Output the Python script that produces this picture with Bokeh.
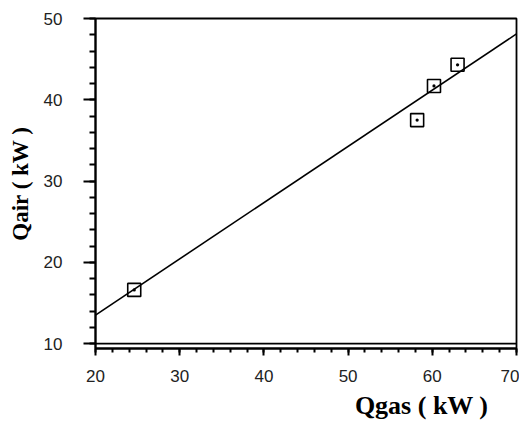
from bokeh.plotting import figure
from bokeh.models import Range1d, SingleIntervalTicker, Span, Title
from bokeh.embed import file_html
from bokeh.resources import INLINE

# data
qgas = [24.6, 58.2, 60.2, 63.0]
qair = [16.6, 37.5, 41.7, 44.3]
fit_x = [20, 70]
fit_y = [13.5, 48.1]

x_label = "Qgas ( kW )"
y_label = "Qair ( kW )"

p = figure(width=519, height=425, output_backend="svg", toolbar_location=None,
           x_range=Range1d(20, 70), y_range=Range1d(9.39, 50),
           min_border_left=95, min_border_right=3, min_border_top=18, min_border_bottom=77)

p.background_fill_color = "white"
p.border_fill_color = "white"
p.outline_line_color = "black"
p.outline_line_width = 1.8
p.xgrid.visible = False
p.ygrid.visible = False

# fitted line
p.line(fit_x, fit_y, line_color="black", line_width=1.6)
# data points
p.scatter(qgas, qair, marker="square_dot", size=13, fill_color=None,
          line_color="black", line_width=1.6)

# y=10 line at bottom of frame
p.add_layout(Span(location=10, dimension="width", line_color="black", line_width=1.8))

xa = p.xaxis[0]
xa.ticker = SingleIntervalTicker(interval=10, num_minor_ticks=5)
xa.axis_line_width = 2
xa.axis_line_color = "black"
xa.major_tick_in = 0
xa.major_tick_out = 7
xa.minor_tick_in = 0
xa.minor_tick_out = 4
xa.major_tick_line_width = 2
xa.minor_tick_line_width = 2
xa.major_tick_line_color = "black"
xa.minor_tick_line_color = "black"
xa.major_label_text_font = "Liberation Sans"
xa.major_label_text_font_size = "17px"
xa.major_label_text_color = "#222222"
xa.major_label_standoff = 14

ya = p.yaxis[0]
ya.ticker = SingleIntervalTicker(interval=10, num_minor_ticks=5)
ya.axis_line_width = 2
ya.axis_line_color = "black"
ya.major_tick_in = 0
ya.major_tick_out = 12
ya.minor_tick_in = 0
ya.minor_tick_out = 6
ya.major_tick_line_width = 2
ya.minor_tick_line_width = 2
ya.major_tick_line_color = "black"
ya.minor_tick_line_color = "black"
ya.major_label_text_font = "Liberation Sans"
ya.major_label_text_font_size = "17px"
ya.major_label_text_color = "#222222"
ya.major_label_standoff = 21
ya.axis_label = y_label
ya.axis_label_text_font = "Liberation Serif"
ya.axis_label_text_font_style = "bold"
ya.axis_label_text_font_size = "23px"
ya.axis_label_text_color = "black"
ya.axis_label_standoff = 8

p.add_layout(Title(text=x_label, align="right", offset=28, standoff=9,
                   text_font="Liberation Serif", text_font_style="bold",
                   text_font_size="26px", text_color="black"), "below")

open("out.html", "w").write(file_html(p, INLINE))
